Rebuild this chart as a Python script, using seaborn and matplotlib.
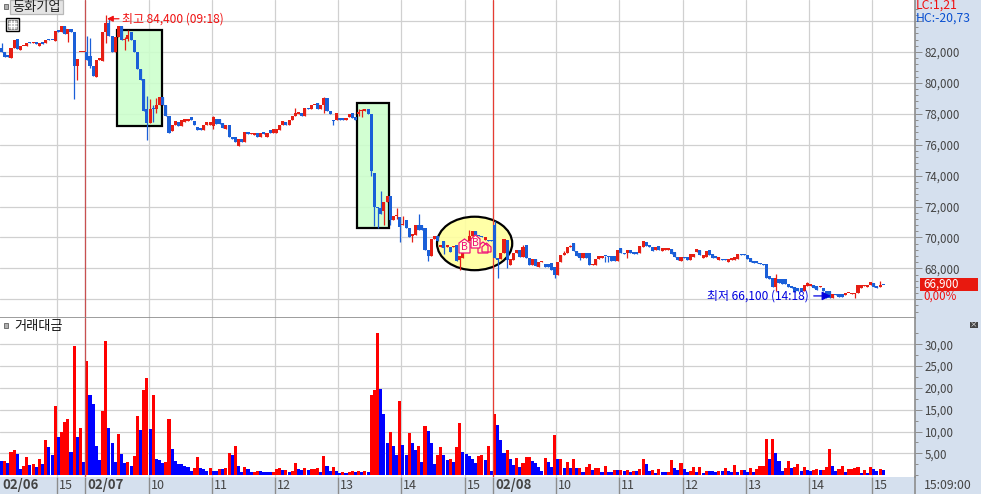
import matplotlib
matplotlib.use('Agg')
import matplotlib.pyplot as plt
from matplotlib.patches import Rectangle, Ellipse, Polygon
import numpy as np
import pandas as pd
import seaborn as sns

# 3 minute candles
opens = [
    82260, 82000, 81830, 81610, 82260, 82840, 82150, 82370, 82410, 82650,
    82580, 82620, 82370, 82650, 82580, 82840, 82800, 82730, 83440, 83290,
    83700, 83160, 83480, 83290, 81080, 82000, 82000, 82000, 81760, 81120,
    80390, 81510, 81440, 83270, 83870, 83010, 82000, 82970, 83700, 82800,
    82840, 83290, 82750, 82000, 80930, 80260, 78320, 77420, 78390, 78280,
    78600, 79100, 78600, 77850, 76880, 77270, 77480, 77200, 77460, 77530,
    77810, 77530, 77160, 77100, 76950, 77250, 77250, 77200, 77640, 77640,
    77380, 77030, 77250, 76520, 76520, 75920, 76350, 76170, 76820, 76670,
    76600, 76730, 76520, 76820, 76520, 76950, 76730, 76780, 76950, 77250,
    77460, 77250, 77590, 77890, 78020, 78070, 77850, 78390, 78320, 78540,
    78710, 78320, 78540, 79030, 78170, 77630, 77630, 77700, 77700, 77570,
    77810, 78060, 77810, 78020, 78170, 78170, 78320, 78020, 74180, 71950,
    71910, 71690, 72300, 72660, 71110, 71410, 71330, 70790, 71150, 70610,
    70070, 70180, 70830, 70830, 70610, 69170, 68780, 69920, 70070, 69380,
    69750, 69380, 69380, 69380, 69530, 68560, 68670, 69530, 69750, 70120,
    70440, 70180, 70070, 69850, 69810, 69810, 70830, 68670, 68600, 69000,
    69810, 68240, 68560, 69000, 69210, 68710, 69530, 68670, 68240, 68600,
    68090, 68410, 68300, 68300, 68350, 68060, 67590, 68410, 68840, 69000,
    69360, 69640, 69140, 69000, 68670, 69000, 69000, 68240, 68240, 68630,
    68670, 68820, 68820, 68780, 68780, 68450, 69320, 69000, 69000, 69210,
    69060, 69060, 69000, 69380, 69710, 69490, 69380, 69170, 69470, 69120,
    69170, 69170, 69230, 69060, 68740, 68460, 68740, 68740, 68520, 68740,
    69060, 69170, 68690, 68740, 69170, 68950, 68780, 68570, 68630, 68630,
    68420, 68520, 68570, 68630, 68950, 68950, 68840, 68690, 68480, 68480,
    68370, 68270, 68270, 67500, 67350, 66770, 67300, 67300, 67300, 66960,
    66850, 66770, 66700, 66700, 66550, 66850, 66850, 66920, 66850, 66770,
    66700, 66550, 66550, 66100, 66340, 66340, 66340, 66280, 66380, 66340,
    66340, 66380, 66700, 66880, 66770, 66920, 67030, 66850, 66810, 66950,
]
closes = [
    82000, 81680, 81680, 82260, 82800, 82220, 82410, 82410, 82580, 82580,
    82620, 82520, 82580, 82540, 82800, 82750, 82750, 83330, 83290, 83700,
    83180, 83480, 83290, 81080, 81550, 82000, 82000, 81460, 81120, 80430,
    81510, 81610, 83270, 83870, 83010, 82000, 82970, 83700, 82800, 82860,
    83120, 82750, 82000, 80930, 80220, 78170, 77420, 78320, 78320, 78600,
    79100, 78600, 77850, 76780, 77270, 77530, 77200, 77590, 77640, 77640,
    77590, 77250, 76950, 76950, 77250, 77480, 77480, 77810, 77310, 77310,
    77100, 77250, 76520, 76350, 76170, 76350, 76170, 76820, 76670, 76780,
    76780, 76520, 76730, 76690, 76730, 76730, 76990, 76990, 77250, 77530,
    77250, 77590, 77890, 78070, 78070, 77850, 78390, 78280, 78580, 78580,
    78320, 78600, 79030, 78170, 77960, 77520, 78060, 77570, 77570, 77740,
    78020, 77740, 77590, 78060, 78240, 78320, 78020, 74280, 71950, 71910,
    71540, 72300, 72660, 71150, 71410, 71450, 70680, 70830, 70610, 70010,
    70250, 70830, 70500, 70460, 69170, 68780, 69920, 70070, 69750, 69530,
    69320, 69530, 69060, 69420, 68450, 68780, 69530, 69640, 70070, 70440,
    70180, 70070, 70010, 70030, 69750, 69770, 68670, 68560, 69000, 69920,
    68560, 68630, 69000, 69210, 68710, 69380, 68670, 68240, 68600, 68130,
    68410, 68450, 68060, 68060, 67910, 67590, 68410, 68840, 69000, 69360,
    69420, 69140, 68780, 68670, 69000, 68670, 68240, 68300, 68630, 68780,
    68820, 68780, 68730, 68450, 68450, 69210, 69000, 68950, 69210, 69000,
    68930, 68930, 69420, 69790, 69420, 69380, 69140, 69380, 69170, 69320,
    69320, 69320, 68950, 68740, 68570, 68740, 68690, 68570, 68950, 68950,
    69270, 68890, 68840, 69120, 68840, 68690, 68690, 68740, 68520, 68520,
    68590, 68690, 68740, 68950, 68890, 68890, 68590, 68420, 68370, 68370,
    68270, 68200, 67410, 67330, 66770, 67350, 67030, 66960, 66960, 66770,
    66700, 66490, 66530, 66550, 66920, 67030, 66980, 66700, 66600, 66850,
    66550, 66100, 66100, 66320, 66260, 66130, 66130, 66380, 66430, 66380,
    66380, 66920, 66920, 66920, 66920, 67130, 66770, 66700, 66920, 66900,
]
wick_index = [0, 21, 23, 24, 27, 28, 33, 34, 39, 40, 46, 47, 48, 49, 67, 93, 102,
              105, 113, 114, 117, 118, 119, 120, 121, 123, 125, 126, 127, 130,
              132, 135, 140, 145, 148, 156, 157, 160, 165, 175, 178, 180, 183,
              191, 192, 198, 245, 255, 270, 278]
wick_high = [82580, 83480, 83290, 81550, 83010, 82900, 84400, 84200, 82970, 83440,
             79140, 78970, 78600, 79030, 77850, 78390, 79100, 77630, 78280, 78320,
             78020, 74180, 71950, 73030, 72300, 72660, 71910, 71330, 71410, 70250,
             71540, 69170, 69750, 68780, 70500, 71050, 68670, 69810, 69530, 68060,
             69140, 69530, 69000, 68820, 68820, 69210, 67620, 67130, 66380, 67170]
wick_low = [82000, 82620, 78970, 80170, 81460, 80970, 82580, 83010, 82150, 82690,
            76300, 77420, 77460, 78070, 76990, 77890, 78070, 77270, 77850, 77810,
            74000, 70760, 70610, 71540, 70830, 70830, 71200, 69680, 70790, 69680,
            70500, 68450, 68900, 67910, 69750, 68670, 67370, 68020, 68710, 67370,
            68840, 69360, 68520, 68410, 68410, 68670, 66550, 66850, 66100, 66810]

volumes = [
    3.2, 3.2, 2.8, 5.3, 5.7, 4.8, 1.4, 2.1, 4.2, 2.3,
    2.6, 1.9, 3.7, 2.6, 8.0, 6.4, 4.6, 15.8, 8.7, 9.8,
    12.1, 12.8, 5.3, 29.6, 8.7, 10.8, 3.0, 26.2, 18.3, 16.4,
    6.7, 3.5, 14.6, 30.8, 10.8, 7.3, 3.0, 9.4, 4.8, 2.8,
    3.0, 2.1, 4.4, 13.5, 10.3, 19.6, 22.3, 10.5, 18.3, 3.7,
    3.5, 2.8, 3.0, 12.8, 6.0, 3.3, 2.6, 2.6, 2.1, 1.9,
    1.0, 1.7, 4.2, 1.7, 1.4, 1.0, 1.7, 1.0, 1.0, 1.4,
    1.4, 1.7, 5.1, 4.6, 6.7, 2.1, 0.8, 1.9, 1.4, 0.8,
    0.8, 1.0, 1.0, 0.8, 0.8, 0.8, 0.8, 1.4, 1.7, 1.2,
    1.2, 0.8, 1.0, 2.8, 1.4, 1.2, 1.7, 1.2, 1.4, 1.4,
    1.7, 0.8, 4.4, 2.1, 1.0, 1.9, 1.0, 0.5, 0.8, 0.5,
    0.8, 1.0, 0.8, 1.0, 0.8, 1.0, 0.8, 18.3, 19.6, 32.6,
    19.8, 13.9, 7.3, 9.8, 6.7, 4.6, 16.9, 6.9, 4.6, 9.6,
    7.3, 5.8, 6.7, 3.0, 11.2, 10.1, 7.3, 2.6, 4.6, 6.4,
    4.6, 3.5, 3.7, 3.0, 6.4, 11.9, 5.3, 4.8, 4.4, 3.7,
    2.8, 4.4, 4.6, 3.5, 6.7, 1.0, 13.9, 11.4, 8.0, 5.1,
    5.8, 3.7, 2.3, 3.9, 1.9, 2.8, 4.2, 4.2, 3.3, 2.8,
    1.9, 1.0, 3.9, 3.0, 1.9, 9.2, 3.7, 3.7, 1.7, 3.0,
    1.7, 3.7, 1.7, 1.7, 0.8, 1.9, 2.6, 1.2, 1.7, 1.7,
    0.8, 2.1, 0.8, 0.8, 1.2, 1.2, 1.2, 1.0, 1.2, 0.8,
    1.0, 1.0, 1.4, 3.7, 2.6, 1.0, 1.2, 0.5, 1.4, 0.8,
    0.7, 0.7, 3.5, 1.7, 1.2, 2.8, 1.4, 0.7, 1.0, 1.9,
    0.7, 1.9, 0.5, 1.0, 1.0, 1.0, 0.7, 1.0, 1.0, 1.7,
    1.0, 0.7, 2.3, 0.7, 1.2, 1.2, 0.7, 1.7, 0.7, 1.4,
    2.1, 2.1, 8.3, 3.7, 8.3, 5.1, 3.3, 1.0, 1.7, 3.3,
    1.7, 1.9, 2.6, 1.0, 1.9, 1.2, 1.0, 1.2, 1.4, 1.2,
    1.2, 1.9, 6.0, 2.1, 1.0, 1.4, 2.1, 0.7, 1.4, 1.4,
    1.7, 1.9, 0.5, 1.2, 0.5, 1.9, 1.4, 1.0, 1.4, 1.2,
]
volume_colors = (
    'brbrrbbrrb' 'rbrbrbbrbr' 'rrbrbrbrbb' 'bbrrbbbrbb'
    'rbrrbrrbrb' 'bbrrbbbbbb' 'brrbbbrbbr' 'brrbrbbrbb'
    'rrbbbbrrrb' 'rbrrbbrbrr' 'rbrbbrbbrb' 'rrbrbrbrrr'
    'bbbrbbrbbr' 'bbrbrbbbrr' 'bbrbrrbbbb' 'brrbrbrbbb'
    'rbbrbrrrbb' 'bbrbbrbrbr' 'brbrbrrbrr' 'brbbrbrbrb'
    'rbrrbbrbrb' 'brrbbrbbrr' 'brbrbbbrbr' 'bbrbrbbrbr'
    'rrrbrbbbrr' 'brrbrbbrrb' 'rrrbbrrbrr' 'rrbrbrbbrb'
)

tick_index = [18, 27, 47, 67, 87, 107, 127, 147, 156, 176, 196, 216, 236, 256, 276]
tick_labels = ['15', '02/07', '10', '11', '12', '13', '14', '15', '02/08',
               '10', '11', '12', '13', '14', '15']
price_ticks = [66000, 68000, 70000, 72000, 74000, 76000, 78000, 80000, 82000, 84000]
price_labels = ['', '68,000', '70,000', '72,000', '74,000', '76,000', '78,000', '80,000', '82,000', '']
volume_ticks = [5, 10, 15, 20, 25, 30]
volume_labels = ['5,00', '10,00', '15,00', '20,00', '25,00', '30,00']

sns.set_style('white')
plt.rcParams['font.family'] = ['Noto Sans CJK KR', 'DejaVu Sans']

GRID = '#D0D0D0'
AXIS = '#8C8C8C'
TEXT = '#444444'
STRIP = '#D5E0EE'
RED = '#E61E14'
BLUE = '#1A5FD8'
PITCH = 3.157
WIDTH, HEIGHT = 981, 494

fig = plt.figure(figsize=(WIDTH / 100, HEIGHT / 100), dpi=100, facecolor=STRIP)
ax_price = fig.add_axes([0, (HEIGHT - 318) / HEIGHT, 915 / WIDTH, 318 / HEIGHT])
ax_vol = fig.add_axes([0, (HEIGHT - 476.5) / HEIGHT, 915 / WIDTH, 158.5 / HEIGHT])

idx = np.arange(len(closes))
grid_pos = np.array(tick_index) - 0.475
x_range = (-0.475, 914 / PITCH - 0.475)

# candles
o = np.array(opens, dtype=float)
c = np.array(closes, dtype=float)
highs = np.maximum(o, c)
lows = np.minimum(o, c)
highs[wick_index] = wick_high
lows[wick_index] = wick_low
colors = [RED if b >= a else BLUE for a, b in zip(opens, closes)]
bottom = np.minimum(o, c)
height = np.maximum(np.abs(c - o), 70)
ax_price.vlines(idx, lows, highs, colors=colors, linewidth=0.9, zorder=3)
ax_price.bar(idx, height, bottom=bottom, width=0.97, color=colors, linewidth=0,
             antialiased=False, zorder=4)

# marked zones under the candles
box_fill = (0.80, 1.0, 0.80, 0.88)
ax_price.add_patch(Rectangle((36.4, 77210), 14.3, 6213, facecolor=box_fill, edgecolor='black', linewidth=1.6, zorder=2))
ax_price.add_patch(Rectangle((112.6, 70620), 10.0, 8090, facecolor=box_fill, edgecolor='black', linewidth=1.6, zorder=2))
ax_price.add_patch(Ellipse((149.7, 69613), 23.8, 3460, facecolor=(1.0, 1.0, 0.62, 0.9), edgecolor='black', linewidth=1.6, zorder=2))

ax_price.set_ylim(64790, 85364)
ax_price.set_yticks(price_ticks)
ax_price.set_yticklabels(price_labels)
ax_price.set_yticks(np.arange(65200, 85200, 400), minor=True)

# volume bars
df_vol = pd.DataFrame({'bar': idx, 'volume': volumes, 'side': list(volume_colors)})
sns.barplot(data=df_vol, x='bar', y='volume', hue='side', palette={'r': '#FF0000', 'b': '#0000FF'},
            dodge=False, native_scale=True, width=0.97, saturation=1, legend=False,
            linewidth=0, antialiased=False, ax=ax_vol)
ax_vol.set_xlabel('')
ax_vol.set_ylabel('')
ax_vol.set_ylim(-0.3, 36)
ax_vol.set_yticks(volume_ticks)
ax_vol.set_yticklabels(volume_labels)
ax_vol.set_yticks(np.arange(0, 35, 2.5), minor=True)

for ax in [ax_price, ax_vol]:
    ax.set_xlim(*x_range)
    ax.set_xticks(grid_pos)
    ax.set_axisbelow(True)
    ax.grid(True, which='major', color=GRID, linewidth=0.9)
    ax.yaxis.tick_right()
    ax.tick_params(axis='y', which='major', length=5, width=0.7, color=AXIS, labelcolor=TEXT,
                   labelsize=8.3, pad=1.8, right=True, left=False)
    ax.tick_params(axis='y', which='minor', length=2.5, width=0.7, color=AXIS, right=True, left=False)
    for side in ['top', 'left']:
        ax.spines[side].set_visible(False)
    ax.spines['right'].set_color(AXIS)
    ax.spines['right'].set_linewidth(1.2)
    ax.axvline(27 - 0.475, color='#C85050', linewidth=0.9, zorder=2.5)
    ax.axvline(156 - 0.475, color='#E63C32', linewidth=0.9, zorder=2.5)

ax_price.spines['bottom'].set_color(AXIS)
ax_price.spines['bottom'].set_linewidth(1.2)
ax_price.tick_params(axis='x', which='both', length=0, labelbottom=False)
ax_vol.spines['bottom'].set_visible(False)
ax_vol.tick_params(axis='x', which='major', direction='out', length=14, width=1.0, color=AXIS,
                   bottom=True, labelbottom=False)

# time labels in the strip below the bars
x_trans = ax_vol.get_xaxis_transform()
ax_vol.text(0.2, -0.055, '02/06', transform=x_trans, color=TEXT, fontsize=9.5, fontweight='bold', va='center', ha='left')
for pos, label in zip(grid_pos, tick_labels):
    bold = '/' in label
    ax_vol.text(pos + 0.6, -0.055, label, transform=x_trans, color=TEXT, fontsize=9.5 if bold else 9,
                fontweight='bold' if bold else 'normal', va='center', ha='left')

# high and low notes
ax_price.annotate('최고 84,400 (09:18)', xy=(33.4, 84150), xytext=(38.2, 84150), color='#F01010', fontsize=8.6,
                  va='center', ha='left', zorder=6,
                  arrowprops=dict(arrowstyle='-|>', color='#F01010', linewidth=0.9, shrinkA=0, shrinkB=0))
ax_price.text(255.3, 66218, '최저 66,100 (14:18)', color='#0000E0', fontsize=8.6, va='center', ha='right', zorder=6)
ax_price.annotate('', xy=(262.4, 66218), xytext=(257, 66218), zorder=6,
                  arrowprops=dict(arrowstyle='-|>', color='#0000E0', linewidth=0.9, shrinkA=0, shrinkB=0, mutation_scale=13))

# everything around the plot, in picture pixels
over = fig.add_axes([0, 0, 1, 1], facecolor='none')
over.set_xlim(0, WIDTH)
over.set_ylim(HEIGHT, 0)
over.axis('off')

over.add_patch(Rectangle((10, 0.5), 53, 14, facecolor='#E4E4E4', edgecolor='#B8B8B8', linewidth=0.9))
over.text(36.5, 7, '동화기업', color='#222222', fontsize=9.5, ha='center', va='center')
over.text(14, 326.5, '거래대금', color='#111111', fontsize=9.5, ha='left', va='center')
for y0 in [4.5, 323]:
    over.add_patch(Rectangle((3.5, y0), 4.5, 4.5, facecolor='#B0B0B0', edgecolor='#707070', linewidth=0.7))

# table icon
over.add_patch(Rectangle((5.5, 18.5), 13, 13, facecolor='#F2F2F2', edgecolor='black', linewidth=1.0))
over.add_patch(Rectangle((7.5, 20.5), 9, 9, facecolor='#C8C8C8', edgecolor='#777777', linewidth=0.6))
over.vlines([10.5, 13.5], 20.5, 29.5, color='white', linewidth=0.7)
over.hlines([23.5, 26.5], 7.5, 16.5, color='white', linewidth=0.7)

# buy markers inside the ellipse
house_x = [482, 478, 459, 471]
house_y = [243, 242, 239, 235]
house_w = [9, 10, 11, 9]
house_h = [9, 11, 14, 13]
house_fill = ['none', 'none', '#FFFFDC', '#FFFFDC']
PINK = '#F0107A'
for x0, y0, w, h, fill in zip(house_x, house_y, house_w, house_h, house_fill):
    pts = [(x0, y0 + h), (x0, y0 + 4), (x0 + w / 2, y0), (x0 + w, y0 + 4), (x0 + w, y0 + h)]
    over.add_patch(Polygon(pts, closed=True, facecolor=fill, edgecolor=PINK, linewidth=0.9))
over.text(464.5, 247, 'B', color=PINK, fontsize=7.5, ha='center', va='center')
over.text(475.5, 243, 'B', color=PINK, fontsize=7.5, ha='center', va='center')

# right side labels
over.text(916, 5.5, 'LC:1,21', color='#F01010', fontsize=8.8, ha='left', va='center')
over.text(916, 18, 'HC:-20,73', color='#0A50D0', fontsize=8.8, ha='left', va='center')
over.add_patch(Rectangle((920, 278), 58, 12.7, facecolor='#E8190F', edgecolor='none'))
over.text(923.5, 284.3, '66,900', color='white', fontsize=8.3, ha='left', va='center')
over.text(923.5, 296.5, '0,00%', color='#F01010', fontsize=8.3, ha='left', va='center')
over.text(924, 485, '15:09:00', color=TEXT, fontsize=8.8, ha='left', va='center')
over.vlines(915, 476, 494, color=AXIS, linewidth=1.2)

# close button on the lower pane
over.add_patch(Rectangle((970, 321.5), 7.5, 6, facecolor='#444444', edgecolor='none'))
over.text(973.7, 324.3, '×', color='white', fontsize=5.5, ha='center', va='center')

plt.savefig('out.png', dpi=100, facecolor=STRIP)
